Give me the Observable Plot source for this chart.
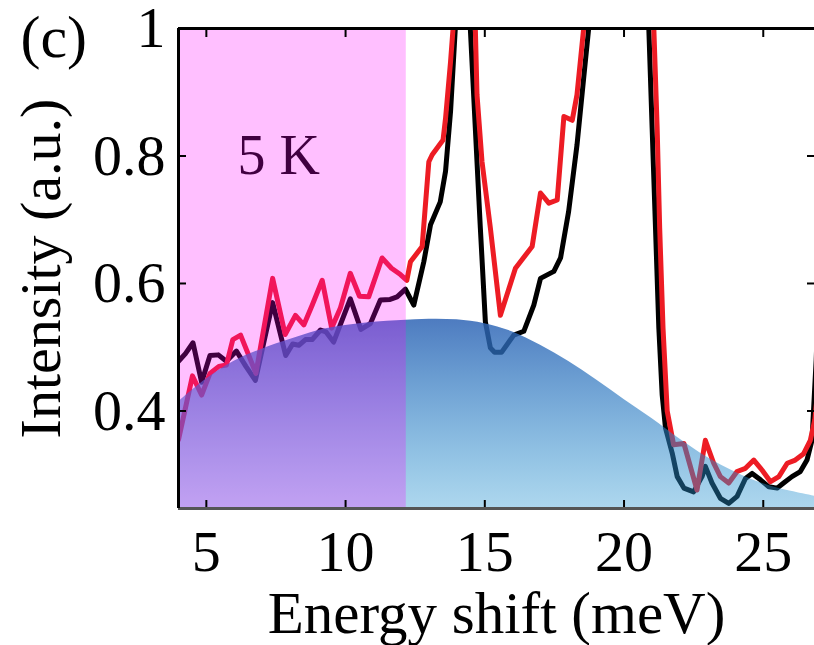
<!DOCTYPE html>
<html>
<head>
<meta charset="utf-8">
<script src="https://cdn.jsdelivr.net/npm/d3@7"></script>
<script src="https://cdn.jsdelivr.net/npm/@observablehq/plot@0.6"></script>
<style>
  html, body { margin: 0; padding: 0; background: #fff; }
  #chart { width: 814px; height: 645px; overflow: hidden; }
</style>
</head>
<body>
<div id="chart"></div>
<script>
// ---- data ----
const xTicks = [5, 10, 15, 20, 25];
const yTicks = [0.4, 0.6, 0.8, 1];
const yTickLabels = ["0.4", "0.6", "0.8", "1"];

// black spectrum (energy shift in meV, intensity a.u.)
const blackX = [4.0, 4.25, 4.52, 4.83, 5.13, 5.43, 5.72, 6.08, 6.42, 6.76, 7.38, 7.85, 8.1, 8.32, 8.56, 8.8, 9.1, 9.3, 9.57, 10.17, 10.55, 10.89, 11.25, 11.6, 11.85, 12.15, 12.45, 12.81, 13.05, 13.4, 13.59, 13.77, 13.94, 14.2, 14.48, 14.66, 14.84, 15.02, 15.2, 15.35, 15.6, 16.04, 16.4, 16.76, 17.0, 17.48, 17.72, 18.01, 18.31, 18.55, 18.73, 19.2, 20.4, 20.89, 21.01, 21.13, 21.25, 21.37, 21.49, 21.73, 21.91, 22.15, 22.5, 22.8, 22.92, 23.16, 23.46, 23.76, 24.06, 24.36, 24.6, 24.9, 25.2, 25.5, 25.73, 26.03, 26.33, 26.57, 26.75, 26.9, 27.0];
const blackY = [0.478, 0.49, 0.507, 0.445, 0.487, 0.488, 0.478, 0.494, 0.47, 0.448, 0.57, 0.487, 0.505, 0.503, 0.512, 0.512, 0.527, 0.524, 0.508, 0.576, 0.528, 0.537, 0.574, 0.575, 0.579, 0.591, 0.566, 0.634, 0.692, 0.728, 0.776, 0.87, 1.0, 1.25, 1.0, 0.843, 0.687, 0.54, 0.499, 0.492, 0.492, 0.519, 0.525, 0.566, 0.608, 0.619, 0.64, 0.713, 0.817, 0.922, 1.0, 1.4, 1.4, 1.0, 0.843, 0.687, 0.53, 0.425, 0.373, 0.334, 0.297, 0.279, 0.273, 0.297, 0.313, 0.287, 0.263, 0.255, 0.266, 0.294, 0.302, 0.292, 0.281, 0.279, 0.287, 0.297, 0.305, 0.323, 0.354, 0.48, 0.6];

// red spectrum
const redX = [4.0, 4.5, 4.83, 5.13, 5.45, 5.72, 5.95, 6.23, 6.78, 7.38, 7.83, 8.2, 8.5, 8.8, 9.16, 9.5, 9.81, 10.17, 10.5, 10.83, 11.31, 11.65, 11.97, 12.2, 12.33, 12.75, 12.99, 13.11, 13.5, 13.59, 13.77, 13.86, 14.2, 14.66, 14.72, 14.9, 15.2, 15.56, 16.1, 16.7, 17.0, 17.3, 17.6, 17.84, 18.14, 18.31, 18.55, 19.0, 20.6, 21.07, 21.19, 21.28, 21.4, 21.55, 21.78, 22.15, 22.62, 22.92, 23.22, 23.46, 23.76, 24.06, 24.36, 24.66, 24.96, 25.26, 25.56, 25.86, 26.15, 26.45, 26.69, 26.85, 27.0];
const redY = [0.355, 0.455, 0.425, 0.459, 0.47, 0.472, 0.512, 0.519, 0.459, 0.608, 0.52, 0.55, 0.535, 0.566, 0.605, 0.53, 0.561, 0.616, 0.58, 0.579, 0.64, 0.624, 0.614, 0.605, 0.634, 0.658, 0.791, 0.802, 0.825, 0.859, 0.948, 1.0, 1.3, 1.0, 0.896, 0.791, 0.687, 0.55, 0.624, 0.658, 0.742, 0.726, 0.731, 0.862, 0.856, 0.896, 1.0, 1.4, 1.4, 1.0, 0.843, 0.687, 0.53, 0.4, 0.347, 0.349, 0.276, 0.354, 0.318, 0.297, 0.287, 0.305, 0.31, 0.323, 0.307, 0.289, 0.297, 0.318, 0.323, 0.333, 0.354, 0.386, 0.45];

// blue background (shaded) profile
const bgX = [4, 5, 6, 7, 8, 9, 10, 11, 12, 13, 14, 15, 16, 17, 18, 19, 20, 21, 22, 23, 24, 25, 26, 27];
const bgY = [0.414, 0.45, 0.478, 0.497, 0.512, 0.526, 0.534, 0.539, 0.542, 0.544, 0.543, 0.537, 0.524, 0.503, 0.478, 0.449, 0.418, 0.388, 0.356, 0.327, 0.304, 0.286, 0.274, 0.265];

// shaded low-energy window and its annotation
const shadeX = [4, 12.18];
const annotText = "5 K";
const annotX = 7.6;
const annotY = 0.8;

const xDomain = [4, 26.84];
const yDomain = [0.247, 1];

const black = blackX.map((x, i) => ({x, y: blackY[i]}));
const red = redX.map((x, i) => ({x, y: redY[i]}));
const bg = bgX.map((x, i) => ({x, y: bgY[i]}));
const shade = [{x1: shadeX[0], x2: shadeX[1]}];

const FS = 58;

const chart = Plot.plot({
  width: 814,
  height: 645,
  marginLeft: 178,
  marginRight: 0,
  marginTop: 28,
  marginBottom: 137,
  x: {domain: xDomain},
  y: {domain: yDomain},
  style: {
    fontFamily: "'Liberation Serif', 'Times New Roman', serif",
    fontSize: FS + "px",
    background: "white",
    color: "black",
    overflow: "hidden"
  },
  marks: [
    Plot.line(black, {x: "x", y: "y", stroke: "#000", strokeWidth: 5, strokeLinejoin: "round", clip: true}),
    Plot.line(red, {x: "x", y: "y", stroke: "#ed1c24", strokeWidth: 5, strokeLinejoin: "round", clip: true}),
    Plot.areaY(bg, {x: "x", y1: yDomain[0], y2: "y", fill: "url(#blueGrad)", curve: "catmull-rom", clip: true}),
    Plot.text([annotText], {x: () => annotX, y: () => annotY, text: d => d, fontSize: 56, fill: "black", textAnchor: "middle", lineAnchor: "middle"}),
    Plot.rect(shade, {x1: "x1", x2: "x2", y1: () => yDomain[0], y2: () => yDomain[1], fill: "#ff00ff", fillOpacity: 0.25}),
    Plot.axisX({anchor: "bottom", ticks: xTicks, tickSize: -8, tickPadding: 29, tickFormat: d => String(d), label: null, strokeWidth: 2}),
    Plot.axisX({anchor: "top", ticks: xTicks, tickSize: -8, tickFormat: () => "", label: null, strokeWidth: 2}),
    Plot.axisY({anchor: "left", ticks: yTicks, tickSize: -8, tickPadding: 21, tickFormat: d => yTickLabels[yTicks.indexOf(d)], label: null, strokeWidth: 2}),
    Plot.axisY({anchor: "right", ticks: yTicks, tickSize: -8, tickFormat: () => "", label: null, strokeWidth: 2}),
    Plot.ruleY([yDomain[1]], {stroke: "#000", strokeWidth: 3}),
    Plot.ruleY([yDomain[0]], {stroke: "#555", strokeWidth: 3}),
    Plot.ruleX([xDomain[0]], {stroke: "#000", strokeWidth: 3}),
    Plot.text(["Energy shift (meV)"], {frameAnchor: "bottom", dy: 106, fontSize: 59, textAnchor: "middle", lineAnchor: "middle", fill: "black"}),
    Plot.text(["Intensity (a.u.)"], {frameAnchor: "left", dx: -137, rotate: -90, fontSize: FS, textAnchor: "middle", lineAnchor: "middle", fill: "black"}),
    Plot.text(["(c)"], {frameAnchor: "top-left", dx: -158, dy: 9, fontSize: 60, textAnchor: "start", lineAnchor: "middle", fill: "black"})
  ]
});

// vertical gradient for the shaded profile
const defs = d3.select(chart).insert("defs", ":first-child");
const grad = defs.append("linearGradient").attr("id", "blueGrad")
  .attr("x1", 0).attr("y1", 0).attr("x2", 0).attr("y2", 1);
grad.append("stop").attr("offset", "0%").attr("stop-color", "rgb(46,100,181)").attr("stop-opacity", 0.85);
grad.append("stop").attr("offset", "100%").attr("stop-color", "rgb(40,150,210)").attr("stop-opacity", 0.38);

document.getElementById("chart").appendChild(chart);
</script>
</body>
</html>
